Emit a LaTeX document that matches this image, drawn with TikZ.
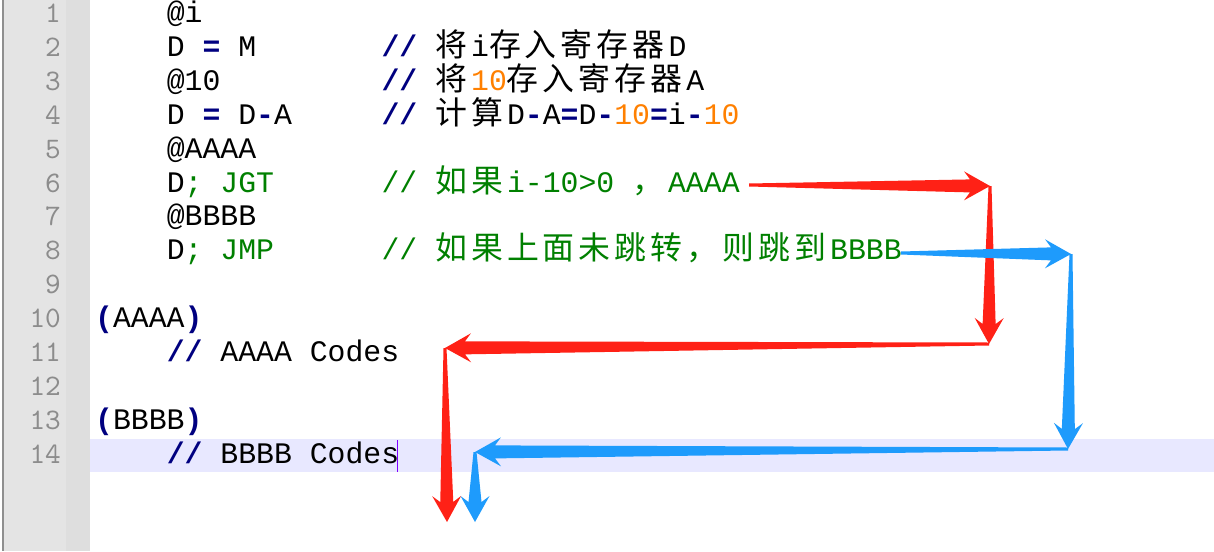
\documentclass[tikz,border=0pt]{standalone}
\usepackage{fontspec}
\usepackage{xcolor}
\usepackage{tikz}
\usetikzlibrary{calc}
\newfontfamily\codefont{Liberation Mono}
\newfontfamily\numfont{lmmono10-regular}[Extension=.otf]
\newfontfamily\cjk{Noto Sans CJK SC}[Scale=1.07, LetterSpace=12.6]
\definecolor{opblue}{HTML}{000080}
\definecolor{numorange}{HTML}{FF8000}
\definecolor{cmtgreen}{HTML}{008000}
\definecolor{lnumgray}{HTML}{8C8C8C}
\definecolor{gutter}{HTML}{E4E4E4}
\definecolor{foldbar}{HTML}{DEDEDE}
\definecolor{border}{HTML}{8F8F8F}
\definecolor{curline}{HTML}{E8E8FF}
\definecolor{caret}{HTML}{8000FF}
\definecolor{jred}{HTML}{FF2116}
\definecolor{jblue}{HTML}{1E9BFC}
\newcommand\op[1]{\textcolor{opblue}{\bfseries #1}}
\newcommand\nm[1]{\textcolor{numorange}{#1}}
\newcommand\cm[1]{\textcolor{cmtgreen}{#1}}
\newcommand\hz[1]{{\cjk #1}\kern4pt}
\newcommand\jumparrow[3]{%
  \coordinate (hb) at ($(#3)!20pt!(#2)$);
  \coordinate (hw) at ($(#3)!26pt!(#2)$);
  \fill[#1] ($(#2)!1.5pt!90:(#3)$) -- ($(hb)!6.5pt!90:(#3)$) -- ($(hw)!14.5pt!90:(#3)$)
    -- (#3) -- ($(hw)!14.5pt!-90:(#3)$) -- ($(hb)!6.5pt!-90:(#3)$) -- ($(#2)!1.5pt!-90:(#3)$) -- cycle;
}
\tikzset{
  code/.style={font={\codefont\fontsize{29.8}{34}\selectfont}, anchor=base west, inner sep=0pt},
  lnum/.style={font={\numfont\fontsize{29.8}{34}\selectfont}, text=lnumgray, anchor=base east, inner sep=0pt},
  caretline/.style={draw=caret, line width=1.5pt},
}
\begin{document}
\begin{tikzpicture}[x=1pt,y=-1pt]
  \useasboundingbox (0,0) rectangle (1214,551);
  \fill[white] (0,0) rectangle (1214,551);
  \fill[gutter] (3,0) rectangle (66,551);
  \fill[foldbar] (66,0) rectangle (90,551);
  \draw[border, line width=2pt] (3,0) -- (3,551);
  \fill[curline] (90,439) rectangle (1214,472);
  \foreach \n in {1,...,14}
    \node[lnum] (n\n) at (61,{22.5+(\n-1)*33.9}) {\n};
  \node[code] (l1) at (166.6,22.5) {@i};
  \node[code] (l2) at (166.6,56.4) {D \op{=} M};
  \node[code] (k2) at (381.4,56.4) {\op{//} \hz{将}i\hz{存入寄存器}D};
  \node[code] (l3) at (166.6,90.3) {@10};
  \node[code] (k3) at (381.4,90.3) {\op{//} \hz{将}\nm{10}\hz{存入寄存器}A};
  \node[code] (l4) at (166.6,124.2) {D \op{=} D\op{-}A};
  \node[code] (k4) at (381.4,124.2) {\op{//} \hz{计算}D\op{-}A\op{=}D\op{-}\nm{10}\op{=}i\op{-}\nm{10}};
  \node[code] (l5) at (166.6,158.1) {@AAAA};
  \node[code] (l6) at (166.6,192) {D\cm{; JGT}};
  \node[code] (k6) at (381.4,192) {\cm{// \hz{如果}i-10>0 \hz{，}AAAA}};
  \node[code] (l7) at (166.6,225.9) {@BBBB};
  \node[code] (l8) at (166.6,259.8) {D\cm{; JMP}};
  \node[code] (k8) at (381.4,259.8) {\cm{// \hz{如果上面未跳转，则跳到}BBBB}};
  \node[code] (l10) at (95,327.6) {\op{(}AAAA\op{)}};
  \node[code] (l11) at (166.6,361.5) {\op{//} AAAA Codes};
  \node[code] (l13) at (95,429.3) {\op{(}BBBB\op{)}};
  \node[code] (l14) at (166.6,463.2) {\op{//} BBBB Codes};
  \draw[caretline] (l14.base east) ++(-2,-23) -- ++(0,32);
  \coordinate (gt) at (749,185);
  \coordinate (gt1) at (990,186);
  \coordinate (gt2) at (989,344);
  \coordinate (gt3) at (445,348);
  \coordinate (gt4) at (447,522);
  \coordinate (mp) at (901,253);
  \coordinate (mp1) at (1071,254);
  \coordinate (mp2) at (1068,449);
  \coordinate (mp3) at (475,452);
  \coordinate (mp4) at (475,522);
  \jumparrow{jred}{gt}{gt1}
  \jumparrow{jred}{gt1}{gt2}
  \jumparrow{jred}{gt2}{gt3}
  \jumparrow{jred}{gt3}{gt4}
  \jumparrow{jblue}{mp}{mp1}
  \jumparrow{jblue}{mp1}{mp2}
  \jumparrow{jblue}{mp2}{mp3}
  \jumparrow{jblue}{mp3}{mp4}
\end{tikzpicture}
\end{document}
